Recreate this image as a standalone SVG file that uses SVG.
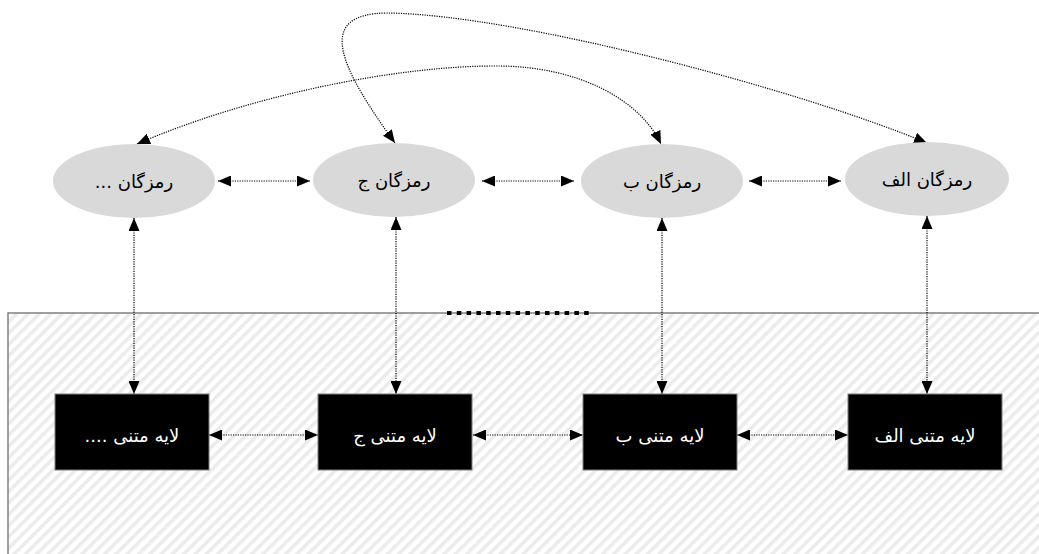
<svg xmlns="http://www.w3.org/2000/svg" width="1039" height="554" viewBox="0 0 1039 554">
  <style>
    .code { fill: #d9d9d9; stroke: none; }
    .layer { fill: #000000; stroke: #7f7f7f; stroke-width: 1; }
    .lbl { font-family: "DejaVu Sans", "Noto Sans", sans-serif; font-size: 18px; text-anchor: middle; direction: rtl; dominant-baseline: central; }
    .dark { fill: #000000; }
    .light { fill: #ffffff; }
    .conn { fill: none; stroke: #000000; stroke-width: 1.2; stroke-dasharray: 1.2 1.2; marker-start: url(#arr); marker-end: url(#arr); }
  </style>
  <defs>
    <marker id="arr" viewBox="0 0 13 11" refX="13" refY="5.5" markerWidth="13" markerHeight="11" markerUnits="userSpaceOnUse" orient="auto-start-reverse">
      <path d="M0,0 L13,5.5 L0,11 Z" fill="#000000" stroke="none"/>
    </marker>
    <pattern id="hatch" width="8" height="8" patternUnits="userSpaceOnUse" patternTransform="rotate(45)">
      <rect x="0" y="0" width="8" height="8" fill="#ffffff"/>
      <rect x="0" y="0" width="3.5" height="8" fill="#ebebeb"/>
    </pattern>
  </defs>

  <g id="text-layer-area">
    <rect x="8" y="313" width="1040" height="250" fill="url(#hatch)" stroke="#808080" stroke-width="1.5"/>
    <line x1="447" y1="313" x2="594" y2="313" stroke="#000000" stroke-width="4" stroke-dasharray="4.5 5.3"/>
  </g>

  <g id="connectors">
    <path class="conn" d="M218,181 L310,181"/>
    <path class="conn" d="M482,181 L574,181"/>
    <path class="conn" d="M749,181 L841,181"/>
    <path class="conn" d="M209,435 L318,435"/>
    <path class="conn" d="M473,435 L583,435"/>
    <path class="conn" d="M737,435 L848,435"/>
    <path class="conn" d="M134,218 L134,394"/>
    <path class="conn" d="M396,217 L396,394"/>
    <path class="conn" d="M662,218 L662,394"/>
    <path class="conn" d="M927,216 L927,394"/>
    <path class="conn" d="M137,144 C250,95 400,65 500,66 C580,67 640,100 661,144"/>
    <path class="conn" d="M395,143 C342,70 312,13 388,13 C520,15 800,90 927,143"/>
  </g>

  <g id="code-etc">
    <ellipse class="code" cx="134" cy="181" rx="81" ry="37"/>
    <text class="lbl dark" x="134" y="181">رمزگان ...</text>
  </g>
  <g id="code-j">
    <ellipse class="code" cx="394" cy="180" rx="81" ry="37"/>
    <text class="lbl dark" x="394" y="180">رمزگان ج</text>
  </g>
  <g id="code-b">
    <ellipse class="code" cx="662" cy="181" rx="81" ry="37"/>
    <text class="lbl dark" x="662" y="181">رمزگان ب</text>
  </g>
  <g id="code-alef">
    <ellipse class="code" cx="927" cy="179" rx="82" ry="37"/>
    <text class="lbl dark" x="927" y="179">رمزگان الف</text>
  </g>

  <g id="layer-etc">
    <rect class="layer" x="55" y="394" width="154" height="76"/>
    <text class="lbl light" x="132" y="435">لایه متنی ....</text>
  </g>
  <g id="layer-j">
    <rect class="layer" x="318" y="394" width="154" height="76"/>
    <text class="lbl light" x="395" y="435">لایه متنی ج</text>
  </g>
  <g id="layer-b">
    <rect class="layer" x="583" y="394" width="154" height="76"/>
    <text class="lbl light" x="660" y="435">لایه متنی ب</text>
  </g>
  <g id="layer-alef">
    <rect class="layer" x="848" y="394" width="154" height="76"/>
    <text class="lbl light" x="925" y="435">لایه متنی الف</text>
  </g>
</svg>
